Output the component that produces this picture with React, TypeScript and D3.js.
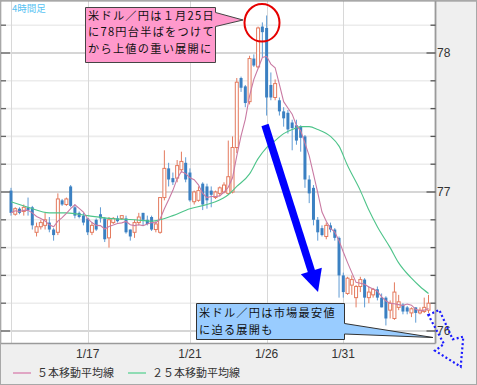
import React from 'react';
import * as d3 from 'd3';

const W = 477;
const H = 385;

// 4-hour USD/JPY candles (open, high, low, close)
const opens = [77.01,76.84,76.88,76.86,76.89,76.89,76.71,76.75,76.76,76.78,76.73,76.71,76.94,76.91,77.04,76.89,76.85,76.83,76.81,76.71,76.80,76.84,76.81,76.67,76.78,76.81,76.81,76.81,76.73,76.71,76.78,76.85,76.80,76.82,76.73,76.71,76.96,77.17,77.10,77.10,77.16,77.21,77.14,76.93,76.94,77.06,77.04,77.01,76.96,76.99,77.00,76.99,77.00,77.32,77.82,77.76,77.65,77.96,77.90,78.19,78.18,77.77,77.68,77.66,77.58,77.57,77.50,77.48,77.47,77.40,77.09,77.03,76.80,76.74,76.68,76.76,76.73,76.67,76.40,76.27,76.33,76.24,76.32,76.37,76.24,76.26,76.30,76.24,76.24,76.15,76.09,76.17,76.19,76.17,76.13,76.17,76.13,76.14,76.15];
const highs = [77.03,76.89,76.89,76.91,76.96,76.90,76.78,76.80,76.85,76.82,76.74,76.99,76.95,76.96,77.05,76.91,76.86,76.85,76.81,76.78,76.81,76.89,76.82,76.82,76.82,76.83,76.83,76.83,76.73,76.80,76.85,76.85,76.83,76.83,76.79,76.96,77.30,77.21,77.14,77.23,77.29,77.25,77.17,77.01,77.04,77.07,77.06,77.04,77.01,77.04,77.07,77.37,77.40,77.82,77.83,77.77,77.98,77.99,78.19,78.22,78.27,77.86,77.81,77.68,77.61,77.59,77.52,77.52,77.48,77.41,77.12,77.05,76.82,76.76,76.78,76.78,76.74,76.68,76.42,76.39,76.40,76.33,76.39,76.38,76.32,76.31,76.32,76.27,76.25,76.22,76.35,76.26,76.20,76.18,76.17,76.17,76.17,76.24,76.26];
const lows = [76.83,76.83,76.84,76.83,76.83,76.73,76.68,76.73,76.73,76.71,76.65,76.69,76.90,76.90,76.89,76.81,76.81,76.76,76.69,76.69,76.72,76.78,76.64,76.60,76.77,76.78,76.80,76.70,76.65,76.67,76.76,76.76,76.76,76.72,76.71,76.70,76.94,77.04,77.05,77.07,77.14,77.07,76.93,76.91,76.93,76.87,76.88,76.89,76.95,76.97,76.99,76.98,76.99,77.28,77.72,77.61,77.63,77.90,77.89,77.97,77.55,77.66,77.66,77.55,77.47,77.42,77.30,77.34,77.29,77.03,76.92,76.76,76.65,76.68,76.66,76.71,76.65,76.24,76.24,76.26,76.26,76.17,76.28,76.17,76.20,76.24,76.22,76.17,76.04,76.09,76.08,76.15,76.12,76.12,76.10,76.06,76.12,76.13,76.13];
const closes = [76.85,76.88,76.85,76.89,76.87,76.76,76.75,76.78,76.80,76.73,76.69,76.95,76.91,76.95,76.90,76.83,76.82,76.78,76.71,76.76,76.73,76.81,76.66,76.80,76.81,76.79,76.83,76.71,76.68,76.78,76.82,76.80,76.77,76.73,76.77,76.96,77.17,77.09,77.07,77.19,77.22,77.09,76.94,77.00,77.01,76.91,76.94,76.98,77.00,77.03,77.05,77.11,77.32,77.79,77.75,77.64,77.96,77.91,78.18,78.15,77.68,77.68,77.78,77.58,77.53,77.45,77.46,77.37,77.39,77.09,76.99,76.80,76.71,76.69,76.76,76.73,76.67,76.40,76.28,76.38,76.37,76.32,76.37,76.24,76.28,76.30,76.24,76.17,76.09,76.20,76.28,76.21,76.14,76.14,76.16,76.13,76.15,76.17,76.20];

// 25-period moving average, read at sample candles
const ma25Index = [0,4,9,13,18,23,29,33,35,38,42,46,48,51,53,56,58,60,62,64,66,68,70,72,75,77,79,82,84,86,89,91,94,96,98];
const ma25Values = [76.93,76.89,76.85,76.85,76.83,76.81,76.80,76.79,76.80,76.83,76.88,76.91,76.93,76.98,77.04,77.13,77.24,77.32,77.37,77.42,77.45,77.47,77.47,77.45,77.40,77.33,77.19,77.01,76.87,76.75,76.60,76.49,76.38,76.32,76.27];

const priceTicks = [76, 76.2, 76.4, 76.6, 76.8, 77, 77.2, 77.4, 77.6, 77.8, 78, 78.2];
const priceLabels = [76, 77, 78];
const gridIndex = [0, 18, 42, 60, 78];
const dateIndex = [18, 42, 60, 78];
const dateLabels = ['1/17', '1/21', '1/26', '1/31'];

const callout1 = ['米ドル／円は１月25日', 'に78円台半ばをつけて', 'から上値の重い展開に'];
const callout2 = ['米ドル／円は市場最安値', 'に迫る展開も'];
const legendLabels = ['５本移動平均線', '２５本移動平均線'];

const UP = '#e47a5e';
const DOWN = '#3b80c2';
const DOWN_WICK = '#5f9bd4';
const MA5C = '#c97aa3';
const MA25C = '#4ec48a';
const JP = '"Noto Sans CJK JP", "Noto Sans", sans-serif';
const NUM = '"Liberation Sans", Arial, sans-serif';

export default function App() {
  const x = d3.scaleLinear().domain([0, 98]).range([11, 428.5]);
  const y = d3.scaleLinear().domain([76, 78]).range([331, 53]);

  const ma5 = closes.map((_, i) => d3.mean(closes.slice(Math.max(0, i - 4), i + 1)) as number);
  const line5 = d3.line<number>().x((_, i) => x(i)).y((d) => y(d)).curve(d3.curveLinear);
  const line25 = d3
    .line<number>()
    .x((_, i) => x(ma25Index[i]))
    .y((d) => y(d))
    .curve(d3.curveMonotoneX);

  const plotL = 1, plotR = 435.5, plotT = 1, plotB = 343.5;
  const bw = 3;

  // blue arrow geometry
  const a0 = [265, 125], tip = [318, 292];
  const len = Math.hypot(tip[0] - a0[0], tip[1] - a0[1]);
  const u = [(tip[0] - a0[0]) / len, (tip[1] - a0[1]) / len];
  const nrm = [u[1], -u[0]];
  const base = [tip[0] - 22 * u[0], tip[1] - 22 * u[1]];
  const head = [
    [base[0] + 11 * nrm[0], base[1] + 11 * nrm[1]],
    [tip[0], tip[1]],
    [base[0] - 11 * nrm[0], base[1] - 11 * nrm[1]],
  ];

  const calloutFont = 11.2;
  const calloutSpacing = 1.25;

  return (
    <svg width={W} height={H} style={{ position: 'absolute', left: 0, top: 0 }} xmlns="http://www.w3.org/2000/svg">
      <rect x={0} y={0} width={W} height={H} fill="#efefef" />
      <rect x={plotL} y={plotT} width={plotR - plotL} height={plotB - plotT} fill="#ffffff" />

      {/* horizontal grid */}
      {priceTicks.map((p) => {
        const major = Math.abs(p - Math.round(p)) < 1e-6;
        return (
          <line key={'hg' + p} x1={plotL} x2={plotR} y1={y(p)} y2={y(p)}
            stroke={major ? '#d6d6d6' : '#ececec'} strokeWidth={major ? 2 : 1.6} />
        );
      })}
      {/* vertical grid */}
      {gridIndex.map((g) => (
        <line key={'vg' + g} x1={Math.round(x(g)) + 0.5} x2={Math.round(x(g)) + 0.5} y1={plotT} y2={plotB}
          stroke="#d8d8d8" strokeWidth={1} />
      ))}

      {/* candles */}
      {closes.map((c, i) => {
        const o = opens[i];
        const up = c >= o;
        const cx = x(i);
        const top = y(Math.max(o, c));
        const bot = y(Math.min(o, c));
        const h = Math.max(1, bot - top);
        return (
          <g key={'c' + i}>
            <line x1={cx} x2={cx} y1={y(highs[i])} y2={y(lows[i])} stroke={up ? UP : DOWN_WICK} strokeWidth={1} />
            {up ? (
              <rect x={cx - bw / 2} y={top} width={bw} height={h} fill="#ffffff" stroke={UP} strokeWidth={1} />
            ) : (
              <rect x={cx - bw / 2} y={top} width={bw} height={h} fill={DOWN} />
            )}
          </g>
        );
      })}

      {/* moving averages */}
      <path d={line25(ma25Values) || ''} fill="none" stroke={MA25C} strokeWidth={1.1} />
      <path d={line5(ma5) || ''} fill="none" stroke={MA5C} strokeWidth={1.1} />

      {/* frame and axes */}
      <line x1={0.5} x2={0.5} y1={0} y2={plotB} stroke="#8a8a8a" strokeWidth={1.5} />
      <line x1={0} x2={W} y1={0.75} y2={0.75} stroke="#8a8a8a" strokeWidth={1.5} />
      <line x1={plotR} x2={plotR} y1={0} y2={plotB} stroke="#9a9a9a" strokeWidth={1.8} />
      <line x1={0} x2={plotR} y1={plotB} y2={plotB} stroke="#9a9a9a" strokeWidth={1.5} />
      {priceTicks.map((p) => {
        const major = Math.abs(p - Math.round(p)) < 1e-6;
        return (
          <g key={'t' + p}>
            <line x1={0} x2={major ? 10 : 6} y1={y(p)} y2={y(p)} stroke="#666" strokeWidth={1.3} />
            <line x1={plotR - (major ? 9 : 5)} x2={plotR} y1={y(p)} y2={y(p)} stroke="#555" strokeWidth={1.3} />
          </g>
        );
      })}
      {priceLabels.map((p) => (
        <text key={'pl' + p} x={437} y={y(p)} dy="0.36em" fontSize={12} fontFamily={NUM} fill="#333">{p}</text>
      ))}
      {dateIndex.map((d, i) => (
        <text key={'dl' + d} x={x(d)} y={354} dy="0.36em" textAnchor="middle" fontSize={12} fontFamily={NUM} fill="#333">{dateLabels[i]}</text>
      ))}

      {/* title */}
      <text x={12} y={8.5} dy="0.36em" fontSize={9.5} fontFamily={JP} fill="#58c2f2">4時間足</text>

      {/* legend */}
      <line x1={13} x2={31} y1={373} y2={373} stroke="#e0a6c4" strokeWidth={2} />
      <text x={37} y={373} dy="0.36em" fontSize={11} fontFamily={JP} fill="#333">{legendLabels[0]}</text>
      <line x1={128} x2={146} y1={373} y2={373} stroke="#8fdcb4" strokeWidth={2} />
      <text x={152} y={373} dy="0.36em" fontSize={11} fontFamily={JP} fill="#333">{legendLabels[1]}</text>

      {/* blue arrow */}
      <line x1={a0[0]} y1={a0[1]} x2={base[0] + 2 * u[0]} y2={base[1] + 2 * u[1]} stroke="#0000ff" strokeWidth={7.5} />
      <polygon points={head.map((p) => p.join(',')).join(' ')} fill="#0000ff" />

      {/* red circle */}
      <ellipse cx={262} cy={22.8} rx={17.5} ry={18.8} fill="none" stroke="#e60000" strokeWidth={2} />

      {/* callout 1 */}
      <polygon points="85.5,7.5 215.5,7.5 215.5,12.5 243,20 215.5,26.5 215.5,62.5 85.5,62.5"
        fill="#ff99cc" stroke="#444" strokeWidth={1} />
      {callout1.map((t, i) => (
        <text key={'c1' + i} x={88} y={15.5 + i * 16.5} dy="0.36em" fontSize={calloutFont}
          letterSpacing={calloutSpacing} fontFamily={JP} fill="#111">{t}</text>
      ))}

      {/* callout 2 */}
      <polygon points="196.5,303.5 344.5,303.5 344.5,323.5 433,337.5 344.5,334 344.5,339.5 196.5,339.5"
        fill="#99ccff" stroke="#333" strokeWidth={1} />
      {callout2.map((t, i) => (
        <text key={'c2' + i} x={199} y={313 + i * 17} dy="0.36em" fontSize={calloutFont}
          letterSpacing={calloutSpacing} fontFamily={JP} fill="#111">{t}</text>
      ))}

      {/* dotted arrow */}
      <polygon points="428.3,315 439.3,310 452.7,339.3 463.3,336.7 460.7,366.7 435,350.7 444,344"
        fill="none" stroke="#1a1aff" strokeWidth={2.2} strokeDasharray="2 2.4" />

      <rect x={0.5} y={0.5} width={W - 1} height={H - 1} fill="none" stroke="#a8a8a8" strokeWidth={1} />
    </svg>
  );
}
